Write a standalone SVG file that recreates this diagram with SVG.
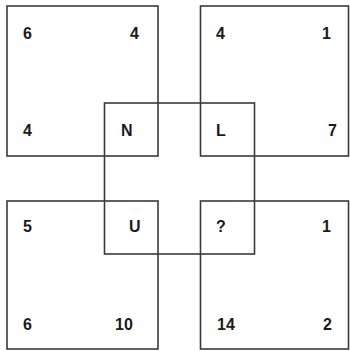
<svg xmlns="http://www.w3.org/2000/svg" width="350" height="351" viewBox="0 0 350 351">
<style>
.sq{fill:none;stroke:#3a3a3a;stroke-width:1.6}
.t{font-family:"Liberation Sans",Arial,sans-serif;font-weight:bold;font-size:16px;fill:#1a1a1a}
</style>
<rect x="0" y="0" width="350" height="351" fill="#ffffff"/>
<g id="square-top-left">
<rect class="sq" x="7" y="6" width="151" height="150"/>
<text class="t" x="23" y="39">6</text>
<text class="t" x="130" y="39">4</text>
<text class="t" x="23" y="136">4</text>
</g>
<g id="square-top-right">
<rect class="sq" x="200.5" y="6" width="148" height="150"/>
<text class="t" x="216" y="39">4</text>
<text class="t" x="322" y="39">1</text>
<text class="t" x="328" y="136">7</text>
</g>
<g id="square-bottom-left">
<rect class="sq" x="7" y="201" width="151" height="148"/>
<text class="t" x="23" y="232">5</text>
<text class="t" x="23" y="330">6</text>
<text class="t" x="115" y="330">10</text>
</g>
<g id="square-bottom-right">
<rect class="sq" x="200.5" y="201" width="148" height="148"/>
<text class="t" x="322" y="232">1</text>
<text class="t" x="217" y="330">14</text>
<text class="t" x="323" y="330">2</text>
</g>
<g id="square-center">
<rect class="sq" x="104.5" y="103" width="150" height="151"/>
<text class="t" x="121" y="136">N</text>
<text class="t" x="216" y="136">L</text>
<text class="t" x="129" y="232">U</text>
<text class="t" x="216" y="232">?</text>
</g>
</svg>
